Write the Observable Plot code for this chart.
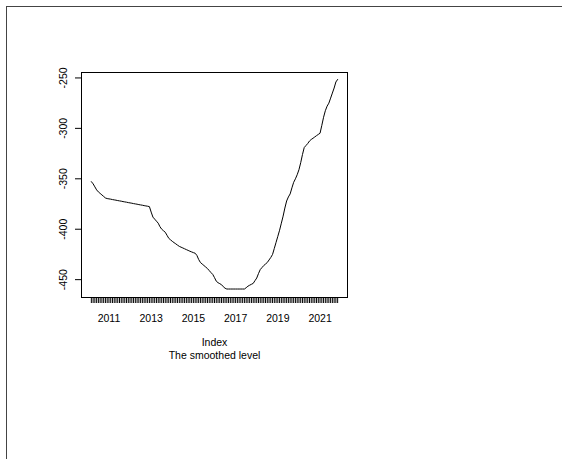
<!DOCTYPE html>
<html>
<head>
<meta charset="utf-8">
<script src="https://cdn.jsdelivr.net/npm/d3@7"></script>
<script src="https://cdn.jsdelivr.net/npm/@observablehq/plot@0.6"></script>
<style>
  html, body { margin: 0; padding: 0; background: #fff; }
  #wrap { position: relative; width: 562px; height: 459px; overflow: hidden; }
  #border { position: absolute; left: 6px; top: 6px; width: 600px; height: 500px;
            border-left: 1.5px solid #444; border-top: 1.5px solid #444; pointer-events: none; }
  svg { font-family: "Liberation Sans", Arial, sans-serif; }
</style>
</head>
<body>
<div id="wrap"><div id="border"></div></div>
<script>
// Monthly series, starting March 2010
const startYear = 2010;
const startMonth = 3;
const level = [
  -352.8, -355, -358, -361, -363, -364.5, -366, -367.5, -369, -369.6,
  -369.9, -370.2, -370.6, -370.9, -371.2, -371.6, -371.9, -372.2, -372.6, -372.9,
  -373.2, -373.6, -373.9, -374.2, -374.6, -374.9, -375.2, -375.6, -375.9, -376.2,
  -376.6, -376.9, -377.2, -377.6, -383, -388, -390, -392, -394, -397.5,
  -400, -401.5, -403, -406, -409, -410.5, -412, -413.3, -414.5, -415.8,
  -417, -417.8, -418.6, -419.4, -420.2, -421, -421.8, -422.5, -423.2, -423.8,
  -426, -430, -433, -434.5, -436, -437.5, -439, -441, -443, -444.8,
  -448, -451.5, -453, -454, -455, -457, -458.5, -459.3, -459.3, -459.3,
  -459.3, -459.3, -459.3, -459.3, -459.3, -459.3, -459.3, -459.3, -458, -456.5,
  -455.5, -454.6, -453.7, -451, -448.4, -444, -440, -438, -436, -434.5,
  -433, -430.5, -428, -425, -419, -413, -407, -401, -394, -387,
  -379, -372, -368, -365, -359, -353.5, -350, -346, -341, -334,
  -326, -319, -317, -315, -312.5, -311, -309.8, -308.5, -307.2, -306,
  -304.8, -297, -289, -282.5, -278, -275, -270, -265, -260, -254,
  -251.5
];
const yTicks = [-450, -400, -350, -300, -250];
const xLabels = [2011, 2013, 2015, 2017, 2019, 2021];
const title1 = "Index";
const title2 = "The smoothed level";

const data = level.map((v, i) => ({t: startYear + (startMonth - 1 + i) / 12, v}));
const monthTicks = data.map(d => d.t);

const chart = Plot.plot({
  width: 562,
  height: 459,
  marginLeft: 81,
  marginRight: 215,
  marginTop: 72,
  marginBottom: 162,
  style: {fontFamily: "'Liberation Sans', Arial, sans-serif", fontSize: "10.5px", color: "#000", background: "transparent"},
  x: {domain: [2009.7, 2022.3]},
  y: {domain: [-467.7, -244.6]},
  marks: [
    Plot.frame({stroke: "#000", strokeWidth: 1}),
    Plot.axisX({ticks: monthTicks, tickSize: 6, tickFormat: () => "", label: null, stroke: "#000"}),
    Plot.axisX({ticks: xLabels, tickSize: 0, tickPadding: 17, tickFormat: d => String(d), label: null, fill: "#000"}),
    Plot.axisY({ticks: yTicks, tickSize: 6, tickFormat: () => "", label: null, stroke: "#000"}),
    Plot.text(yTicks, {y: d => d, text: d => String(d), frameAnchor: "left", textAnchor: "middle", lineAnchor: "middle", dx: -18, rotate: -90, fill: "#000"}),
    Plot.line(data, {x: "t", y: "v", stroke: "#000", strokeWidth: 1}),
    Plot.text([title1], {text: d => d, frameAnchor: "bottom", dy: 48, fill: "#000"}),
    Plot.text([title2], {text: d => d, frameAnchor: "bottom", dy: 61, fill: "#000"})
  ]
});
document.getElementById("wrap").prepend(chart);
</script>
</body>
</html>
